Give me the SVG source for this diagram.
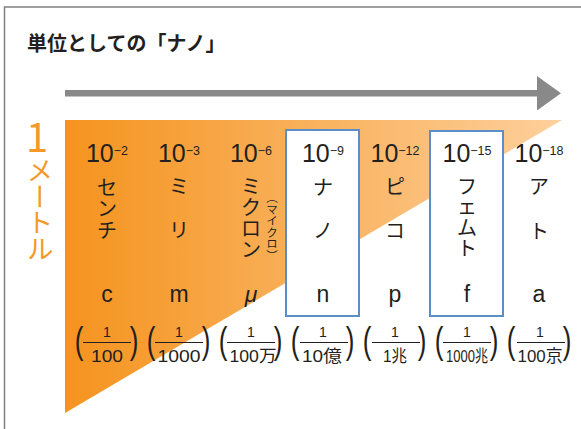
<svg xmlns="http://www.w3.org/2000/svg" width="581" height="429" viewBox="0 0 581 429">
<defs>
<linearGradient id="og" x1="65" y1="0" x2="562" y2="0" gradientUnits="userSpaceOnUse">
<stop offset="0" stop-color="#f5931e"/>
<stop offset="1" stop-color="#fdd09c"/>
</linearGradient>
</defs>
<style>
.ttl{font-family:"Noto Sans CJK JP",sans-serif;font-weight:bold;font-size:20px;fill:#231f20}
.exp{font-family:"Liberation Sans",sans-serif;fill:#231f20;text-anchor:middle;font-size:25px}
.sup{font-size:12.5px}
.kana{font-family:"Noto Sans CJK JP",sans-serif;font-size:20px;fill:#231f20;text-anchor:middle}
.sym{font-family:"Liberation Sans",sans-serif;font-size:23px;fill:#231f20;text-anchor:middle}
.num{font-family:"Liberation Sans","Noto Sans CJK JP",sans-serif;font-size:14px;fill:#231f20;text-anchor:middle}
.den{font-family:"Liberation Sans","Noto Sans CJK JP",sans-serif;font-size:16.5px;fill:#231f20;text-anchor:middle}
.par{font-family:"Liberation Sans",sans-serif;font-size:26px;fill:#231f20;text-anchor:middle}
.bar{stroke:#231f20;stroke-width:1}
.box{fill:#fff;stroke:#5b8dc9;stroke-width:2}
.org{font-family:"Noto Sans CJK JP",sans-serif;fill:#f39a2b}
.small{font-family:"Noto Sans CJK JP",sans-serif;font-size:11.5px;fill:#231f20;writing-mode:vertical-rl}
</style>
<rect width="581" height="429" fill="#fff"/>
<path d="M4.5,429 V7 H581" fill="none" stroke="#808080" stroke-width="1.5"/>
<g id="title"><text class="ttl" x="27" y="51">単位としての「ナノ」</text></g>
<g id="axis-arrow"><polygon points="65,90 537,90 537,76 561,93.3 537,110.5 537,96.5 65,96.5" fill="#898989"/></g>
<g id="scale-triangle"><polygon points="65,120 562,120 65,413" fill="url(#og)"/></g>
<g id="unit-label">
<text class="org" x="37" y="152" font-family="Liberation Sans" font-size="40" text-anchor="middle">1</text>
<text class="org" x="40" y="157" font-size="27" style="writing-mode:vertical-rl;letter-spacing:-1px">メートル</text>
</g>
<g id="col-centi">
<text class="exp" x="107" y="162">10<tspan class="sup" dy="-7">−2</tspan></text>
<text class="kana" x="107" y="194.6">セ</text>
<text class="kana" x="107" y="216">ン</text>
<text class="kana" x="107" y="237.6">チ</text>
<text class="sym" x="107" y="302">c</text>
</g>
<g id="col-milli">
<text class="exp" x="179" y="162">10<tspan class="sup" dy="-7">−3</tspan></text>
<text class="kana" x="179" y="194">ミ</text>
<text class="kana" x="179" y="237.6">リ</text>
<text class="sym" x="179" y="302">m</text>
</g>
<g id="col-micro">
<text class="exp" x="251" y="162">10<tspan class="sup" dy="-7">−6</tspan></text>
<text class="kana" x="251" y="193.5">ミ</text>
<text class="kana" x="251" y="214.5">ク</text>
<text class="kana" x="251" y="236">ロ</text>
<text class="kana" x="251" y="257">ン</text>
<text class="small" x="272" y="192">（マイクロ）</text>
<text class="sym" x="251" y="302" font-style="italic">μ</text>
</g>
<g id="col-nano">
<rect class="box" x="286" y="130" width="73" height="186"/>
<text class="exp" x="323" y="162">10<tspan class="sup" dy="-7">−9</tspan></text>
<text class="kana" x="323" y="194.6">ナ</text>
<text class="kana" x="323" y="237.6">ノ</text>
<text class="sym" x="323" y="302">n</text>
</g>
<g id="col-pico">
<text class="exp" x="395" y="162">10<tspan class="sup" dy="-7">−12</tspan></text>
<text class="kana" x="395" y="194">ピ</text>
<text class="kana" x="395" y="237.6">コ</text>
<text class="sym" x="395" y="302">p</text>
</g>
<g id="col-femto">
<rect class="box" x="430" y="131" width="73" height="185"/>
<text class="exp" x="467" y="162">10<tspan class="sup" dy="-7">−15</tspan></text>
<text class="kana" x="467" y="193.5">フ</text>
<text class="kana" x="467" y="214">ェ</text>
<text class="kana" x="467" y="235">ム</text>
<text class="kana" x="467" y="255.5">ト</text>
<text class="sym" x="467" y="302">f</text>
</g>
<g id="col-atto">
<text class="exp" x="539" y="162">10<tspan class="sup" dy="-7">−18</tspan></text>
<text class="kana" x="539" y="194">ア</text>
<text class="kana" x="539" y="238.6">ト</text>
<text class="sym" x="539" y="302">a</text>
</g>
<g id="fractions">
<g id="frac-centi">
<text class="par" transform="translate(79,353) scale(1,1.45)">(</text>
<text class="num" x="107" y="337">1</text>
<line class="bar" x1="83" y1="342.5" x2="131" y2="342.5"/>
<text class="den" x="107" y="362" textLength="32" lengthAdjust="spacingAndGlyphs">100</text>
<text class="par" transform="translate(134,353) scale(1,1.45)">)</text>
</g>
<g id="frac-milli">
<text class="par" transform="translate(151,353) scale(1,1.45)">(</text>
<text class="num" x="179" y="337">1</text>
<line class="bar" x1="155" y1="342.5" x2="203" y2="342.5"/>
<text class="den" x="179" y="362" textLength="43" lengthAdjust="spacingAndGlyphs">1000</text>
<text class="par" transform="translate(206,353) scale(1,1.45)">)</text>
</g>
<g id="frac-micro">
<text class="par" transform="translate(223,353) scale(1,1.45)">(</text>
<text class="num" x="251" y="337">1</text>
<line class="bar" x1="227" y1="342.5" x2="275" y2="342.5"/>
<text class="den" x="253" y="362" textLength="47" lengthAdjust="spacingAndGlyphs">100万</text>
<text class="par" transform="translate(278,353) scale(1,1.45)">)</text>
</g>
<g id="frac-nano">
<text class="par" transform="translate(295,353) scale(1,1.45)">(</text>
<text class="num" x="323" y="337">1</text>
<line class="bar" x1="300" y1="342.5" x2="348" y2="342.5"/>
<text class="den" x="322" y="362" textLength="40" lengthAdjust="spacingAndGlyphs">10億</text>
<text class="par" transform="translate(350,353) scale(1,1.45)">)</text>
</g>
<g id="frac-pico">
<text class="par" transform="translate(367,353) scale(1,1.45)">(</text>
<text class="num" x="395" y="337">1</text>
<line class="bar" x1="372" y1="342.5" x2="420" y2="342.5"/>
<text class="den" x="395" y="362" textLength="24" lengthAdjust="spacingAndGlyphs">1兆</text>
<text class="par" transform="translate(422,353) scale(1,1.45)">)</text>
</g>
<g id="frac-femto">
<text class="par" transform="translate(439,353) scale(1,1.45)">(</text>
<text class="num" x="467" y="337">1</text>
<line class="bar" x1="443" y1="342.5" x2="491" y2="342.5"/>
<text class="den" x="467" y="362" textLength="42" lengthAdjust="spacingAndGlyphs">1000兆</text>
<text class="par" transform="translate(494,353) scale(1,1.45)">)</text>
</g>
<g id="frac-atto">
<text class="par" transform="translate(511,353) scale(1,1.45)">(</text>
<text class="num" x="540" y="337">1</text>
<line class="bar" x1="517" y1="342.5" x2="565" y2="342.5"/>
<text class="den" x="540" y="362" textLength="45" lengthAdjust="spacingAndGlyphs">100京</text>
<text class="par" transform="translate(567,353) scale(1,1.45)">)</text>
</g>
</g>
</svg>
